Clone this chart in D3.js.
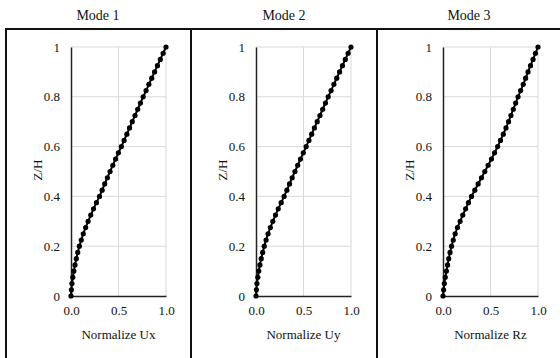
<!DOCTYPE html>
<html>
<head>
<meta charset="UTF-8" />
<script src="https://d3js.org/d3.v7.min.js"></script>
<style>
  body { margin: 0; background: #fff; }
  svg { display: block; }
  svg text { font-family: "Liberation Serif", "Times New Roman", serif !important; fill: #111; }
  .grid line { stroke: #d9d9d9; stroke-width: 1px; }
  .frame { stroke: #111; stroke-width: 2px; }
</style>
</head>
<body>
<svg width="560" height="358"></svg>
<script>
// Z/H levels (0 .. 1, step 0.025)
const levels = [0, 0.025, 0.05, 0.075, 0.1, 0.125, 0.15, 0.175, 0.2, 0.225, 0.25, 0.275, 0.3, 0.325, 0.35, 0.375,
  0.4, 0.425, 0.45, 0.475, 0.5, 0.525, 0.55, 0.575, 0.6, 0.625, 0.65, 0.675, 0.7, 0.725, 0.75, 0.775,
  0.8, 0.825, 0.85, 0.875, 0.9, 0.925, 0.95, 0.975, 1];

const mode1 = [0, 0.004, 0.010, 0.019, 0.030, 0.042, 0.056, 0.071, 0.088, 0.108, 0.129, 0.154, 0.180, 0.208, 0.237, 0.268,
  0.300, 0.328, 0.355, 0.383, 0.411, 0.440, 0.469, 0.499, 0.530, 0.559, 0.588, 0.616, 0.645, 0.674, 0.702, 0.731,
  0.760, 0.790, 0.820, 0.850, 0.880, 0.910, 0.940, 0.970, 1.000];

const mode2 = [0, 0.004, 0.010, 0.019, 0.029, 0.041, 0.055, 0.070, 0.087, 0.106, 0.127, 0.151, 0.177, 0.205, 0.234, 0.265,
  0.296, 0.325, 0.353, 0.381, 0.410, 0.439, 0.468, 0.498, 0.528, 0.557, 0.586, 0.615, 0.644, 0.673, 0.702, 0.731,
  0.760, 0.790, 0.820, 0.850, 0.880, 0.910, 0.940, 0.970, 1.000];

const mode3 = [0, 0.006, 0.014, 0.024, 0.036, 0.048, 0.060, 0.074, 0.090, 0.108, 0.128, 0.152, 0.180, 0.208, 0.238, 0.268,
  0.300, 0.335, 0.370, 0.405, 0.440, 0.475, 0.510, 0.543, 0.575, 0.605, 0.635, 0.663, 0.690, 0.715, 0.740, 0.765,
  0.790, 0.817, 0.845, 0.870, 0.895, 0.921, 0.948, 0.974, 1.000];

const titles = ["Mode 1", "Mode 2", "Mode 3"];
const xLabels = ["Normalize Ux", "Normalize Uy", "Normalize Rz"];
const series = [mode1, mode2, mode3];
const yTicks = [0, 0.2, 0.4, 0.6, 0.8, 1];
const xTicks = [0, 0.5, 1];

const svg = d3.select("svg");

// panel frame
svg.append("line").attr("class", "frame").attr("x1", 5).attr("x2", 560).attr("y1", 29).attr("y2", 29);
[6, 191, 377].forEach(x => {
  svg.append("line").attr("class", "frame").attr("x1", x).attr("x2", x).attr("y1", 28).attr("y2", 358);
});

const panelLeft = [71, 256, 443];
const titleX = [98, 284, 469];

series.forEach((vals, i) => {
  const x = d3.scaleLinear().domain([0, 1]).range([panelLeft[i], panelLeft[i] + 95]);
  const y = d3.scaleLinear().domain([0, 1]).range([296, 47]);
  const g = svg.append("g");

  // gridlines
  const grid = g.append("g").attr("class", "grid");
  grid.selectAll(".gy").data(yTicks.slice(1)).join("line")
    .attr("x1", x(0)).attr("x2", x(1)).attr("y1", d => y(d)).attr("y2", d => y(d));
  grid.selectAll(".gx").data(xTicks.slice(1)).join("line")
    .attr("x1", d => x(d)).attr("x2", d => x(d)).attr("y1", y(0)).attr("y2", y(1));

  // axes
  const ya = g.append("g").attr("transform", `translate(${x(0)},0)`)
    .call(d3.axisLeft(y).tickValues(yTicks).tickSize(0).tickPadding(11).tickFormat(d3.format("")));
  ya.select(".domain").attr("stroke", "#222").attr("stroke-width", 1.5);
  const xa = g.append("g").attr("transform", `translate(0,${y(0)})`)
    .call(d3.axisBottom(x).tickValues(xTicks).tickSize(0).tickPadding(10).tickFormat(d3.format(".1f")));
  xa.select(".domain").attr("stroke", "#222").attr("stroke-width", 1.5);
  g.selectAll(".tick text").style("font-size", "13px");

  // line + markers
  const pts = levels.map((z, k) => [vals[k], z]);
  g.append("path").datum(pts)
    .attr("fill", "none").attr("stroke", "#000").attr("stroke-width", 2)
    .attr("d", d3.line().x(d => x(d[0])).y(d => y(d[1])));
  g.selectAll("circle").data(pts).join("circle")
    .attr("cx", d => x(d[0])).attr("cy", d => y(d[1])).attr("r", 2.6).attr("fill", "#000");

  // titles and labels
  svg.append("text").attr("x", titleX[i]).attr("y", 20).attr("text-anchor", "middle")
    .style("font-size", "14px").text(titles[i]);
  svg.append("text").attr("x", x(0.5)).attr("y", 339).attr("text-anchor", "middle")
    .style("font-size", "13px").text(xLabels[i]);
  svg.append("text").attr("transform", `translate(${panelLeft[i] - 34},170) rotate(-90)`)
    .attr("text-anchor", "middle").attr("dy", "0.35em")
    .style("font-size", "13px").text("Z/H");
});
</script>
</body>
</html>
